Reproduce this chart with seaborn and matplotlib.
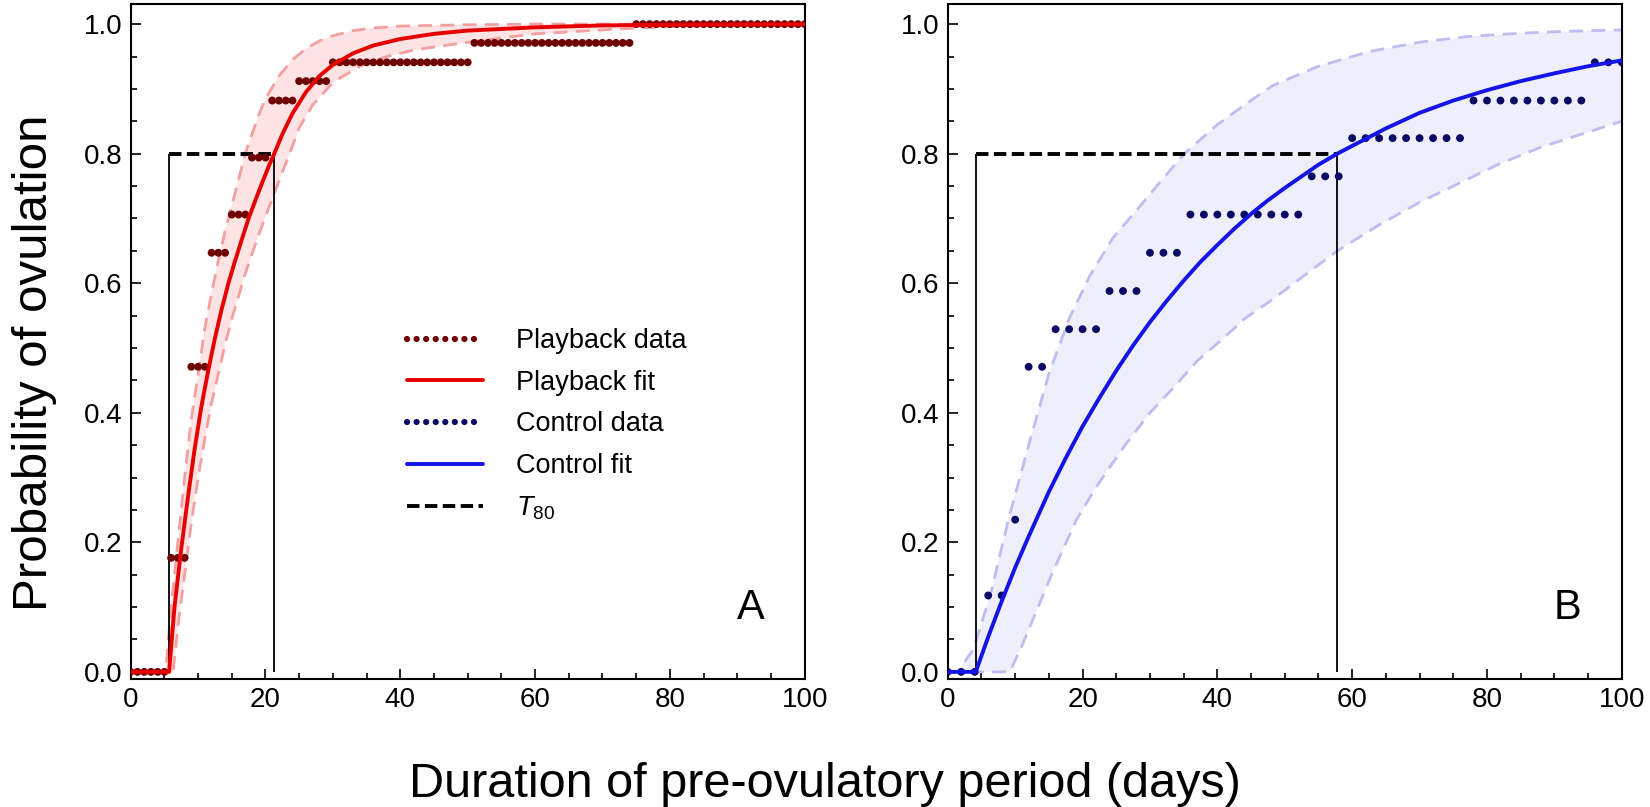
"""
Probability of ovulation vs duration of pre-ovulatory period
Panel A: playback group, Panel B: control group (step data + fitted curve + CI band)
"""
import numpy as np
import matplotlib
matplotlib.use("Agg")
import matplotlib.pyplot as plt
from matplotlib.lines import Line2D
from matplotlib.ticker import MultipleLocator, FormatStrFormatter
import seaborn as sns

# ---- Playback data: step levels (1-day spacing) ----
pb_start = [0, 6, 9, 12, 15, 18, 21, 25, 30, 51, 75]
pb_end = [5, 8, 11, 14, 17, 20, 24, 29, 50, 74, 100]
pb_prob = [0.0, 0.176, 0.471, 0.647, 0.706, 0.794, 0.882, 0.912, 0.941, 0.971, 1.0]

# ---- Control data: step levels (2-day spacing) ----
ct_start = [0, 6, 10, 12, 16, 24, 30, 36, 54, 60, 78, 96]
ct_end = [4, 8, 10, 14, 22, 28, 34, 52, 58, 76, 94, 100]
ct_prob = [0.0, 0.118, 0.235, 0.471, 0.529, 0.588, 0.647, 0.706, 0.765, 0.824, 0.882, 0.941]

# ---- Playback fit and confidence bounds ----
pb_fit_x = [0, 5.7, 6.5, 7.5, 8.5, 9.5, 10.5, 11.5, 12.5, 13.5, 14.5, 15.5, 16.5, 17.5,
            18.5, 19.5, 20.5, 21.3, 22.5, 24, 26, 28, 30, 33, 36, 40, 45, 50, 60, 70, 80, 100]
pb_fit_y = [0, 0, 0.10, 0.19, 0.27, 0.345, 0.41, 0.465, 0.515, 0.56, 0.60, 0.635, 0.668, 0.70,
            0.728, 0.755, 0.781, 0.80, 0.83, 0.862, 0.895, 0.92, 0.937, 0.955, 0.967, 0.977,
            0.985, 0.99, 0.995, 0.998, 0.999, 1.0]
pb_hi_x = [0, 5.2, 6, 7, 8, 9, 10, 11, 12, 13, 14, 15, 16, 17, 18, 19, 20, 22, 24, 26, 28,
           30, 33, 36, 40, 50, 60, 100]
pb_hi_y = [0, 0, 0.10, 0.20, 0.30, 0.39, 0.46, 0.53, 0.585, 0.635, 0.68, 0.72, 0.76, 0.80,
           0.83, 0.86, 0.885, 0.92, 0.945, 0.962, 0.974, 0.982, 0.99, 0.994, 0.997, 0.999,
           1.0, 1.0]
pb_lo_x = [0, 6.3, 7, 8, 9, 10, 11, 12, 13, 14, 15, 16, 17, 18, 19, 20, 21, 22, 23.4, 25,
           27, 30, 34, 38, 42, 50, 60, 75, 85, 100]
pb_lo_y = [0, 0, 0.07, 0.15, 0.23, 0.30, 0.36, 0.415, 0.46, 0.505, 0.545, 0.58, 0.615,
           0.645, 0.675, 0.703, 0.73, 0.758, 0.795, 0.84, 0.875, 0.91, 0.935, 0.95, 0.96,
           0.972, 0.985, 0.994, 0.998, 1.0]

# ---- Control fit and confidence bounds ----
ct_fit_x = [0, 4.15, 6, 8, 10, 12, 15, 17.5, 20, 22.5, 25, 27.5, 30, 32.5, 35, 37.5, 40,
            42.5, 45, 47.5, 50, 55, 57.8, 60, 65, 70, 75, 80, 85, 90, 95, 100]
ct_fit_y = [0, 0, 0.054, 0.109, 0.161, 0.209, 0.278, 0.330, 0.379, 0.423, 0.465, 0.504,
            0.540, 0.573, 0.604, 0.633, 0.659, 0.684, 0.707, 0.728, 0.747, 0.783, 0.80,
            0.812, 0.839, 0.863, 0.882, 0.898, 0.912, 0.924, 0.935, 0.944]
ct_hi_x = [0, 1.5, 3.8, 6.3, 9, 12, 15, 18, 21, 24.5, 27.8, 31, 35.1, 40, 44, 48.2, 55,
           62.7, 70, 77.3, 85, 92, 100]
ct_hi_y = [0, 0, 0.035, 0.118, 0.235, 0.35, 0.46, 0.545, 0.61, 0.67, 0.71, 0.75, 0.80,
           0.845, 0.875, 0.905, 0.935, 0.958, 0.972, 0.981, 0.986, 0.989, 0.991]
ct_lo_x = [0, 9.2, 11, 13, 15.4, 19.1, 22, 26.3, 30, 33.6, 37, 40.9, 44, 48.2, 52, 57.8,
           64, 70, 76, 82, 88, 94, 100]
ct_lo_y = [0, 0, 0.04, 0.09, 0.15, 0.235, 0.285, 0.35, 0.40, 0.44, 0.48, 0.515, 0.545,
           0.575, 0.605, 0.65, 0.69, 0.725, 0.755, 0.785, 0.81, 0.83, 0.85]

# ---- T80 (time to 80 % ovulation) ----
t80_level = 0.8
t80_playback = [5.7, 21.3]
t80_control = [4.15, 57.8]

# colours
PB_DOT, PB_FIT, PB_CI, PB_FILL = "#6e0000", "#e60000", "#f4a0a0", "#fde3e3"
CT_DOT, CT_FIT, CT_CI, CT_FILL = "#0a0a64", "#1414e6", "#bdbdf2", "#efeffc"

sns.set_theme(style="ticks")
plt.rcParams["font.family"] = ["Liberation Sans", "DejaVu Sans"]
plt.rcParams["mathtext.fontset"] = "custom"
plt.rcParams["mathtext.rm"] = "Liberation Sans"
plt.rcParams["mathtext.it"] = "Liberation Sans:italic"
plt.rcParams["text.color"] = "black"
plt.rcParams["xtick.color"] = "black"
plt.rcParams["ytick.color"] = "black"


def steps_to_points(starts, ends, probs, step):
    xs, ys = [], []
    for s, e, p in zip(starts, ends, probs):
        days = np.arange(s, e + 1, step)
        xs.extend(days)
        ys.extend([p] * len(days))
    return np.array(xs), np.array(ys)


def draw_panel(ax, dots, fit, hi, lo, t80, colors, dot_size, letter):
    dot_c, fit_c, ci_c, fill_c = colors
    # CI band
    ax.fill(np.concatenate([hi[0], lo[0][::-1]]), np.concatenate([hi[1], lo[1][::-1]]),
            color=fill_c, lw=0, zorder=1)
    for bx, by in (hi, lo):
        sns.lineplot(x=bx, y=by, ax=ax, color=ci_c, lw=2.0, linestyle=(0, (5, 3)),
                     estimator=None, sort=False, zorder=2)
    # T80 markers
    ax.plot(t80, [t80_level, t80_level], color="black", lw=2.8,
            linestyle=(0, (3.2, 1.4)), zorder=3)
    ax.vlines(t80, 0, t80_level, color="black", lw=1.3, zorder=3)
    # data + fit
    sns.scatterplot(x=dots[0], y=dots[1], ax=ax, color=dot_c, s=dot_size,
                    edgecolor="none", linewidth=0, zorder=4)
    sns.lineplot(x=fit[0], y=fit[1], ax=ax, color=fit_c, lw=2.8,
                 estimator=None, sort=False, zorder=5)

    ax.set_xlim(0, 100)
    ax.set_ylim(-0.011, 1.031)
    ax.xaxis.set_major_locator(MultipleLocator(20))
    ax.xaxis.set_minor_locator(MultipleLocator(5))
    ax.yaxis.set_major_locator(MultipleLocator(0.2))
    ax.yaxis.set_minor_locator(MultipleLocator(0.05))
    ax.yaxis.set_major_formatter(FormatStrFormatter("%.1f"))
    ax.tick_params(which="both", direction="in", top=False, right=False,
                   width=1.2, labelsize=20, pad=6, colors="black")
    ax.tick_params(which="major", length=7)
    ax.tick_params(which="minor", length=4)
    for sp in ax.spines.values():
        sp.set_linewidth(1.5)
        sp.set_color("black")
        sp.set_visible(True)
    ax.set_xlabel("")
    ax.set_ylabel("")
    ax.text(92, 0.098, letter, fontsize=30, ha="center", va="center", color="black")


fig = plt.figure(figsize=(16.5, 8.07), dpi=100)
ax_a = fig.add_axes([0.0792, 0.1586, 0.4085, 0.8364])
ax_b = fig.add_axes([0.5744, 0.1586, 0.4085, 0.8364])

pb_dots = steps_to_points(pb_start, pb_end, pb_prob, 1)
ct_dots = steps_to_points(ct_start, ct_end, ct_prob, 2)

draw_panel(ax_a, pb_dots, (pb_fit_x, pb_fit_y), (np.array(pb_hi_x), np.array(pb_hi_y)),
           (np.array(pb_lo_x), np.array(pb_lo_y)), t80_playback,
           (PB_DOT, PB_FIT, PB_CI, PB_FILL), 32, "A")
draw_panel(ax_b, ct_dots, (ct_fit_x, ct_fit_y), (np.array(ct_hi_x), np.array(ct_hi_y)),
           (np.array(ct_lo_x), np.array(ct_lo_y)), t80_control,
           (CT_DOT, CT_FIT, CT_CI, CT_FILL), 32, "B")

# legend (panel A only)
handles = [
    Line2D([], [], color=PB_DOT, lw=4.5, linestyle=(0, (0.01, 1.52)), dash_capstyle="round"),
    Line2D([], [], color=PB_FIT, lw=2.8),
    Line2D([], [], color=CT_DOT, lw=4.5, linestyle=(0, (0.01, 1.52)), dash_capstyle="round"),
    Line2D([], [], color=CT_FIT, lw=2.8),
    Line2D([], [], color="black", lw=2.8, linestyle=(0, (3.2, 1.4))),
]
labels = ["Playback data", "Playback fit", "Control data", "Control fit", r"$T_{80}$"]
ax_a.legend(handles, labels, loc="upper left", bbox_to_anchor=(0.41, 0.52),
            frameon=False, fontsize=19.5, handlelength=2.8, handletextpad=1.24,
            labelspacing=0.58, borderpad=0, borderaxespad=0, labelcolor="black")

fig.text(0.021, 0.551, "Probability of ovulation", rotation=90, fontsize=35.5,
         ha="center", va="center", color="black")
fig.text(0.5, 0.0285, "Duration of pre-ovulatory period (days)", fontsize=35,
         ha="center", va="center", color="black")

fig.savefig("out.png", dpi=100)
plt.close(fig)
